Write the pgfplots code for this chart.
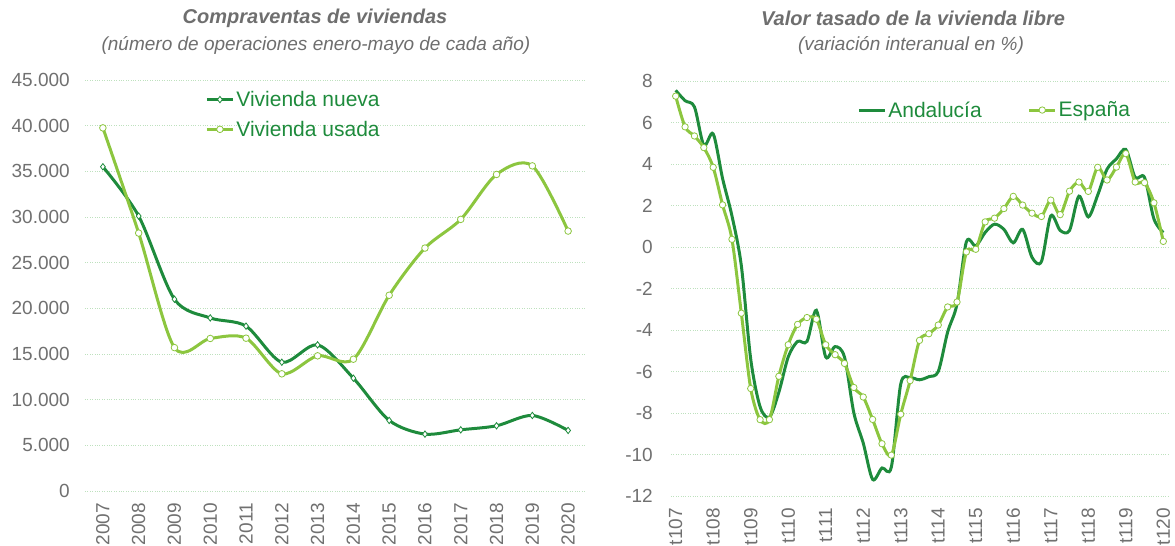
\documentclass[border=0pt]{standalone}
\usepackage{pgfplots}
\pgfplotsset{compat=1.18}
\usepackage{fontspec}
\setmainfont{Liberation Sans}
\definecolor{dgreen}{RGB}{30,139,60}
\definecolor{lgreen}{RGB}{140,198,63}
\definecolor{tgrey}{RGB}{112,112,112}
\definecolor{titgrey}{RGB}{110,110,110}
\definecolor{gridg}{RGB}{190,225,190}
\pgfplotsset{
  myaxis/.style={
    scale only axis,
    axis line style={draw=none},
    major tick length=0pt,
    ymajorgrids,
    grid style={gridg, dotted, line width=0.8pt},
    tick label style={font=\fontsize{19}{22}\selectfont, text=tgrey},
    /pgf/number format/assume math mode=true,
    clip=false,
    legend cell align=left,
    legend style={draw=none, fill=none, inner sep=0pt,
      font=\fontsize{21}{24}\selectfont, text=dgreen},
    legend image code/.code={\draw[mark repeat=2,mark phase=2,##1] plot coordinates {(0pt,0pt) (13pt,0pt) (26pt,0pt)};},
  }
}
\begin{document}
\begin{tikzpicture}[x=1pt,y=1pt]
\path[use as bounding box] (0,0) rectangle (1175,546);
% titles
\node[text=titgrey, font=\fontsize{20}{24}\selectfont\bfseries\itshape] at (315,528) {Compraventas de viviendas};
\node[text=titgrey, font=\fontsize{19}{23}\selectfont\itshape] at (316,501) {(número de operaciones enero-mayo de cada año)};
\node[text=titgrey, font=\fontsize{20}{24}\selectfont\bfseries\itshape] at (913,528) {Valor tasado de la vivienda libre};
\node[text=titgrey, font=\fontsize{19}{23}\selectfont\itshape] at (911,501) {(variación interanual en \%)};

\begin{axis}[myaxis,
  at={(85pt,55pt)}, anchor=south west,
  width=501pt, height=411pt,
  xmin=2006.5, xmax=2020.5, ymin=0, ymax=45000,
  xtick={2007,...,2020},
  ytick={0,5000,...,45000},
  scaled y ticks=false,
  /pgf/number format/1000 sep={.},
  xticklabel style={yshift=-12pt, rotate=90, anchor=east, inner sep=0pt, /pgf/number format/1000 sep={}},
  yticklabel style={anchor=east, inner sep=0pt, xshift=-15pt},
  legend style={at={(0.24,0.978)}, anchor=north west, row sep=9pt},
]
\addplot[dgreen, line width=3pt, smooth, mark=diamond*, mark size=3.2pt,
  mark options={fill=white, draw=dgreen, line width=0.8pt}]
  coordinates {(2007,35500) (2008,30100) (2009,21000) (2010,18950) (2011,18050)
  (2012,14100) (2013,16000) (2014,12350) (2015,7730) (2016,6230) (2017,6700)
  (2018,7140) (2019,8270) (2020,6630)};
\addlegendentry{Vivienda nueva}
\addplot[lgreen, line width=3pt, smooth, mark=*, mark size=3.3pt,
  mark options={fill=white, draw=lgreen, line width=0.8pt}]
  coordinates {(2007,39760) (2008,28240) (2009,15700) (2010,16700) (2011,16730)
  (2012,12830) (2013,14800) (2014,14430) (2015,21430) (2016,26600) (2017,29740)
  (2018,34660) (2019,35600) (2020,28460)};
\addlegendentry{Vivienda usada}
\end{axis}

\begin{axis}[myaxis,
  at={(671pt,50pt)}, anchor=south west,
  width=497pt, height=415pt,
  xmin=-0.5, xmax=52.5, ymin=-12, ymax=8,
  xtick={0,4,...,52},
  xticklabels={t107,t108,t109,t110,t111,t112,t113,t114,t115,t116,t117,t118,t119,t120},
  ytick={-12,-10,...,8},
  xticklabel style={yshift=-12pt, rotate=90, anchor=east, inner sep=0pt},
  yticklabel style={anchor=east, inner sep=0pt, xshift=-18pt},
  legend columns=2,
  legend style={at={(0.3745,0.93)}, anchor=west, /tikz/every even column/.append style={column sep=44pt}},
]
\addplot[dgreen, line width=3pt, smooth, no marks]
  coordinates {(0,7.55) (1,7.05) (2,6.75) (3,4.9) (4,5.45) (5,3.3) (6,1.5) (7,-0.9)
  (8,-5.4) (9,-7.7) (10,-8.2) (11,-7.0) (12,-5.3) (13,-4.55) (14,-4.55) (15,-3.05)
  (16,-5.3) (17,-4.8) (18,-5.3) (19,-8.0) (20,-9.45) (21,-11.2) (22,-10.65) (23,-10.6)
  (24,-6.6) (25,-6.3) (26,-6.4) (27,-6.25) (28,-6.0) (29,-4.1) (30,-2.75) (31,0.25)
  (32,0.05) (33,0.7) (34,1.1) (35,0.85) (36,0.2) (37,0.85) (38,-0.5) (39,-0.7)
  (40,1.5) (41,0.8) (42,0.8) (43,2.45) (44,1.45) (45,2.5) (46,3.75) (47,4.25)
  (48,4.7) (49,3.35) (50,3.35) (51,1.35) (52,0.7)};
\addlegendentry{Andalucía}
\addplot[lgreen, line width=3pt, smooth, mark=*, mark size=3.2pt,
  mark options={fill=white, draw=lgreen, line width=0.8pt}]
  coordinates {(0,7.27) (1,5.79) (2,5.35) (3,4.79) (4,3.84) (5,2.03) (6,0.37) (7,-3.19)
  (8,-6.82) (9,-8.32) (10,-8.32) (11,-6.23) (12,-4.71) (13,-3.73) (14,-3.40) (15,-3.48)
  (16,-4.71) (17,-5.19) (18,-5.61) (19,-6.77) (20,-7.23) (21,-8.31) (22,-9.48) (23,-10.03)
  (24,-8.06) (25,-6.44) (26,-4.5) (27,-4.18) (28,-3.76) (29,-2.89) (30,-2.65) (31,-0.24)
  (32,-0.11) (33,1.21) (34,1.39) (35,1.85) (36,2.44) (37,2.02) (38,1.63) (39,1.47)
  (40,2.26) (41,1.56) (42,2.69) (43,3.13) (44,2.68) (45,3.84) (46,3.23) (47,3.85)
  (48,4.5) (49,3.13) (50,3.10) (51,2.13) (52,0.27)};
\addlegendentry{España}
\end{axis}
\end{tikzpicture}
\end{document}
